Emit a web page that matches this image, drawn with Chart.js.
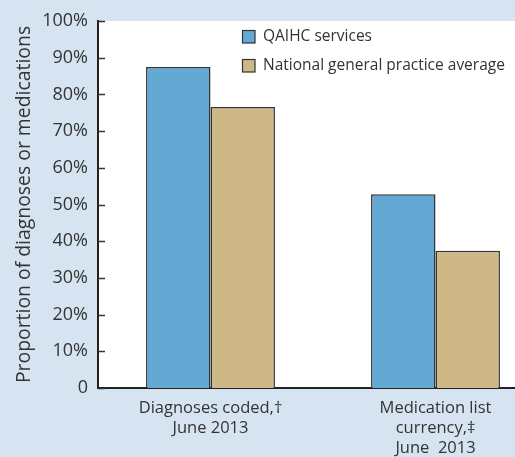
<!DOCTYPE html>
<html>
<head>
<meta charset="utf-8">
<script src="https://cdn.jsdelivr.net/npm/chart.js@4"></script>
<style>
  html, body { margin: 0; padding: 0; background: #d6e4f1; overflow: hidden; }
  #wrap { width: 548px; height: 457px; }
</style>
</head>
<body>
<div id="wrap"><canvas id="c" width="548" height="457"></canvas></div>
<script>
const categories = [
  ['Diagnoses coded,\u2020', 'June 2013'],
  ['Medication list', 'currency,\u2021', 'June  2013']
];
const seriesNames = ['QAIHC services', 'National general practice average'];
const qaihcValues = [87.5, 52.8];
const nationalValues = [76.6, 37.4];
const yTickLabels = ['0', '10%', '20%', '30%', '40%', '50%', '60%', '70%', '80%', '90%', '100%'];
const yAxisTitle = 'Proportion of diagnoses or medications';

const FONT = '"Open Sans", Lato, sans-serif';
const TEXT = '#333333';

const plotBg = {
  id: 'plotBg',
  beforeDraw(chart) {
    const { ctx, chartArea: a } = chart;
    ctx.save();
    ctx.fillStyle = '#ffffff';
    ctx.fillRect(a.left, a.top, a.right - a.left, a.bottom - a.top);
    ctx.restore();
  }
};

const innerTicks = {
  id: 'innerTicks',
  afterDraw(chart) {
    const { ctx, chartArea: a } = chart;
    const y = chart.scales.y;
    ctx.save();
    ctx.strokeStyle = '#333333';
    ctx.lineWidth = 1.5;
    y.ticks.forEach(t => {
      const py = Math.round(y.getPixelForValue(t.value)) + 0.5;
      ctx.beginPath();
      ctx.moveTo(a.left, py);
      ctx.lineTo(a.left + 7, py);
      ctx.stroke();
    });
    ctx.restore();
  }
};

const insideLegend = {
  id: 'insideLegend',
  afterDraw(chart) {
    const { ctx, chartArea: a } = chart;
    const x0 = a.left + 144;
    const y0 = a.top + 9;
    ctx.save();
    ctx.font = '15.5px ' + FONT;
    ctx.textBaseline = 'middle';
    chart.data.datasets.forEach((ds, i) => {
      const by = y0 + i * 29;
      ctx.fillStyle = ds.backgroundColor;
      ctx.fillRect(x0, by, 13, 13);
      ctx.strokeStyle = '#333333';
      ctx.lineWidth = 1.2;
      ctx.strokeRect(x0 + 0.5, by + 0.5, 12.5, 12.5);
      ctx.fillStyle = TEXT;
      ctx.fillText(ds.label, x0 + 21, by + 7);
    });
    ctx.restore();
  }
};

new Chart(document.getElementById('c'), {
  type: 'bar',
  data: {
    labels: categories,
    datasets: [
      { label: seriesNames[0], data: qaihcValues, backgroundColor: '#64a9d4', borderColor: '#333333', borderWidth: 1.5 },
      { label: seriesNames[1], data: nationalValues, backgroundColor: '#cfb887', borderColor: '#333333', borderWidth: 1.5 }
    ]
  },
  options: {
    responsive: false,
    animation: false,
    devicePixelRatio: 1,
    layout: { padding: { top: 21, left: 0, right: 0, bottom: 0 } },
    plugins: { legend: { display: false }, tooltip: { enabled: false } },
    datasets: { bar: { categoryPercentage: 0.573, barPercentage: 1.0 } },
    scales: {
      x: {
        grid: { display: false, drawTicks: false },
        border: { display: true, color: '#222222', width: 2 },
        ticks: { color: TEXT, font: { family: FONT, size: 16.5, lineHeight: 1.22 }, padding: 10, maxRotation: 0, autoSkip: false },
        afterFit(s) { s.height = 69; }
      },
      y: {
        min: 0, max: 100,
        grid: { display: false, drawTicks: false },
        border: { display: true, color: '#222222', width: 2 },
        ticks: {
          stepSize: 10,
          color: TEXT,
          font: { family: FONT, size: 18 },
          padding: 10,
          callback: (v, i) => yTickLabels[i]
        },
        title: { display: true, text: yAxisTitle, color: TEXT, font: { family: FONT, size: 19.4 }, padding: { top: 13, bottom: 0 } },
        afterFit(s) { s.width = 98; }
      }
    }
  },
  plugins: [plotBg, innerTicks, insideLegend]
});
</script>
</body>
</html>
